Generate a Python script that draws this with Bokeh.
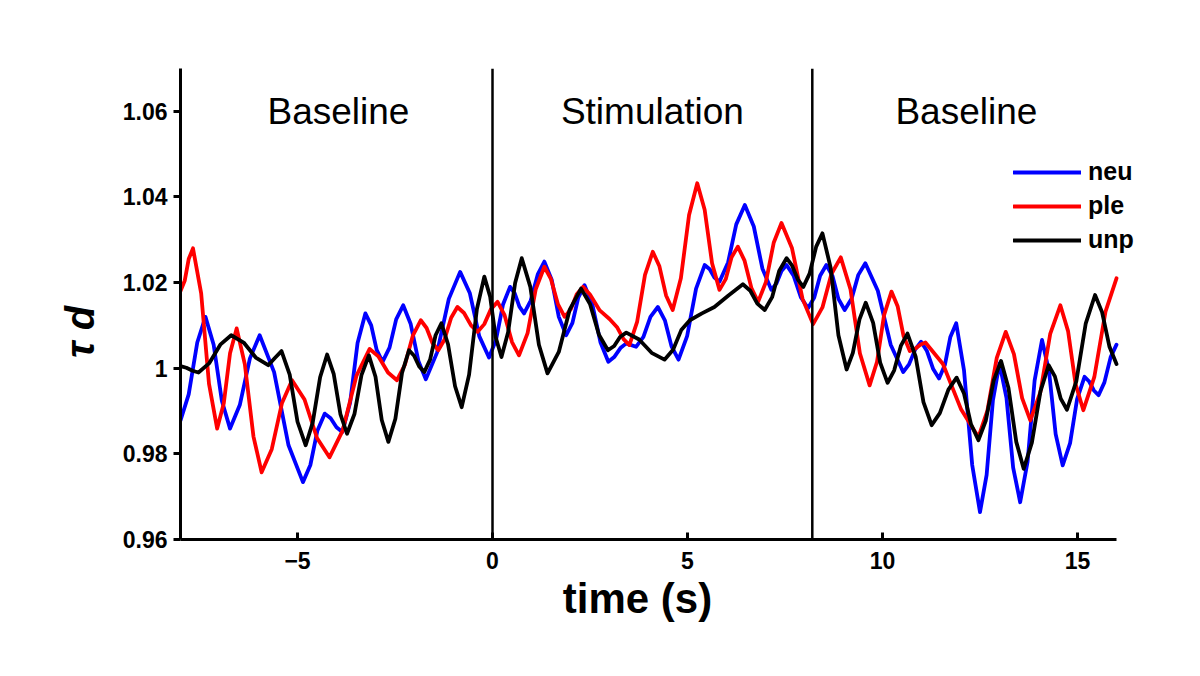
from bokeh.plotting import figure
from bokeh.models import FixedTicker, Span, Range1d
from bokeh.core.properties import value
from bokeh.embed import file_html
from bokeh.resources import INLINE

# ---- data ----
neu_t = [-8.00,-7.79,-7.57,-7.36,-7.15,-6.94,-6.73,-6.48,-6.22,-5.97,
         -5.60,-5.23,-4.86,-4.67,-4.49,-4.30,-4.15,-4.00,-3.85,-3.65,
         -3.46,-3.26,-3.11,-2.97,-2.82,-2.64,-2.47,-2.29,-2.10,-1.90,
         -1.71,-1.42,-1.12,-0.83,-0.58,-0.34,-0.09,0.09,0.27,0.45,
         0.57,0.69,0.81,0.98,1.16,1.33,1.52,1.70,1.89,2.05,
         2.20,2.36,2.56,2.77,2.97,3.12,3.28,3.43,3.68,3.87,
         4.05,4.24,4.42,4.59,4.77,4.99,5.22,5.44,5.57,5.69,
         5.82,6.04,6.25,6.47,6.70,6.92,7.15,7.28,7.41,7.54,
         7.72,7.91,8.09,8.25,8.40,8.56,8.72,8.87,9.03,9.21,
         9.38,9.56,9.88,10.21,10.53,10.68,10.84,10.99,11.14,11.30,
         11.45,11.60,11.74,11.89,12.09,12.30,12.50,12.67,12.83,13.00,
         13.18,13.35,13.53,13.72,13.90,14.09,14.27,14.44,14.62,14.81,
         14.99,15.18,15.30,15.42,15.54,15.69,15.85,16.00]
neu_y = [0.9878,0.9939,1.0060,1.0120,1.0055,0.9924,0.9859,0.9914,1.0023,1.0077,
         0.9991,0.9820,0.9734,0.9774,0.9854,0.9894,0.9883,0.9862,0.9851,0.9920,
         1.0059,1.0128,1.0100,1.0043,1.0015,1.0048,1.0114,1.0147,1.0104,1.0017,
         0.9974,1.0037,1.0162,1.0225,1.0175,1.0075,1.0025,1.0066,1.0149,1.0190,
         1.0175,1.0144,1.0128,1.0158,1.0219,1.0249,1.0206,1.0120,1.0077,1.0106,
         1.0165,1.0194,1.0149,1.0060,1.0015,1.0026,1.0047,1.0058,1.0050,1.0073,
         1.0120,1.0143,1.0112,1.0051,1.0020,1.0075,1.0186,1.0241,1.0231,1.0212,
         1.0202,1.0247,1.0336,1.0381,1.0331,1.0233,1.0183,1.0198,1.0227,1.0241,
         1.0216,1.0165,1.0140,1.0165,1.0216,1.0241,1.0215,1.0162,1.0136,1.0163,
         1.0218,1.0245,1.0181,1.0055,0.9991,1.0009,1.0044,1.0062,1.0040,0.9998,
         0.9976,1.0008,1.0073,1.0105,0.9995,0.9774,0.9664,0.9751,0.9924,1.0011,
         0.9930,0.9768,0.9687,0.9782,0.9971,1.0066,0.9993,0.9846,0.9773,0.9825,
         0.9928,0.9980,0.9969,0.9948,0.9937,0.9967,1.0026,1.0055]

ple_t = [-8.00,-7.89,-7.79,-7.68,-7.47,-7.27,-7.06,-6.89,-6.73,-6.56,
         -6.35,-6.13,-5.92,-5.66,-5.40,-5.14,-4.82,-4.50,-4.18,-3.84,
         -3.49,-3.15,-2.92,-2.68,-2.45,-2.25,-2.04,-1.84,-1.69,-1.54,
         -1.39,-1.23,-1.06,-0.90,-0.73,-0.55,-0.38,-0.21,-0.04,0.13,
         0.31,0.50,0.68,0.90,1.11,1.33,1.50,1.68,1.85,2.01,
         2.16,2.32,2.50,2.75,3.00,3.20,3.36,3.51,3.71,3.91,
         4.11,4.28,4.45,4.62,4.83,5.04,5.25,5.44,5.63,5.82,
         5.98,6.13,6.29,6.46,6.64,6.81,7.01,7.21,7.41,7.68,
         7.95,8.22,8.46,8.69,8.93,9.18,9.42,9.67,9.86,10.04,
         10.23,10.39,10.54,10.70,10.83,10.97,11.10,11.55,12.01,12.46,
         12.69,12.93,13.16,13.37,13.58,13.79,14.05,14.30,14.56,14.76,
         14.95,15.15,15.43,15.72,16.00]
ple_y = [1.0180,1.0205,1.0255,1.0280,1.0175,0.9964,0.9859,0.9918,1.0035,1.0093,
         1.0009,0.9841,0.9757,0.9811,0.9918,0.9972,0.9927,0.9837,0.9792,0.9855,
         0.9982,1.0045,1.0027,0.9990,0.9972,1.0007,1.0077,1.0112,1.0094,1.0059,
         1.0042,1.0067,1.0118,1.0143,1.0129,1.0100,1.0085,1.0103,1.0138,1.0155,
         1.0124,1.0061,1.0030,1.0082,1.0185,1.0237,1.0208,1.0149,1.0120,1.0138,
         1.0173,1.0190,1.0172,1.0135,1.0115,1.0095,1.0068,1.0054,1.0109,1.0218,
         1.0272,1.0238,1.0170,1.0136,1.0210,1.0358,1.0432,1.0370,1.0245,1.0183,
         1.0208,1.0259,1.0284,1.0252,1.0187,1.0155,1.0201,1.0293,1.0339,1.0280,
         1.0162,1.0103,1.0142,1.0220,1.0259,1.0184,1.0035,0.9960,1.0015,1.0124,
         1.0179,1.0144,1.0075,1.0040,1.0045,1.0055,1.0060,1.0010,0.9905,0.9839,
         0.9901,1.0024,1.0085,1.0033,0.9930,0.9878,0.9945,1.0080,1.0147,1.0086,
         0.9963,0.9902,0.9979,1.0133,1.0210]

unp_t = [-8.00,-7.85,-7.69,-7.54,-7.26,-6.98,-6.70,-6.38,-6.07,-5.75,
         -5.58,-5.41,-5.20,-5.00,-4.79,-4.61,-4.42,-4.24,-4.07,-3.90,
         -3.73,-3.54,-3.36,-3.17,-3.00,-2.84,-2.67,-2.49,-2.32,-2.14,
         -2.01,-1.88,-1.75,-1.60,-1.46,-1.31,-1.14,-0.96,-0.79,-0.60,
         -0.40,-0.21,-0.06,0.08,0.23,0.40,0.58,0.75,0.97,1.19,
         1.41,1.70,1.98,2.27,2.50,2.73,2.96,3.12,3.27,3.43,
         3.76,4.08,4.41,4.63,4.84,5.06,5.37,5.69,6.05,6.42,
         6.61,6.79,6.98,7.17,7.35,7.54,7.68,7.83,7.97,8.13,
         8.30,8.46,8.67,8.87,9.08,9.24,9.41,9.57,9.76,9.94,
         10.13,10.30,10.47,10.64,10.85,11.05,11.26,11.47,11.69,11.90,
         12.09,12.27,12.46,12.65,12.85,13.04,13.23,13.43,13.62,13.83,
         14.05,14.26,14.42,14.57,14.73,14.97,15.21,15.45,15.63,15.82,
         16.00]
unp_y = [1.0005,1.0001,0.9994,0.9990,1.0012,1.0055,1.0077,1.0060,1.0025,1.0007,
         1.0024,1.0040,0.9985,0.9875,0.9820,0.9873,0.9979,1.0032,0.9986,0.9893,
         0.9847,0.9893,0.9984,1.0030,0.9980,0.9879,0.9828,0.9882,0.9989,1.0042,
         1.0029,1.0004,0.9991,1.0020,1.0077,1.0105,1.0056,0.9958,0.9909,0.9985,
         1.0138,1.0214,1.0167,1.0073,1.0026,1.0084,1.0199,1.0257,1.0190,1.0055,
         0.9988,1.0038,1.0137,1.0186,1.0150,1.0078,1.0042,1.0052,1.0073,1.0083,
         1.0067,1.0036,1.0020,1.0043,1.0089,1.0112,1.0128,1.0143,1.0170,1.0196,
         1.0181,1.0151,1.0136,1.0166,1.0227,1.0257,1.0240,1.0207,1.0190,1.0221,
         1.0284,1.0315,1.0235,1.0077,0.9997,1.0036,1.0114,1.0153,1.0106,1.0013,
         0.9966,0.9995,1.0052,1.0081,1.0027,0.9921,0.9867,0.9895,0.9950,0.9978,
         0.9941,0.9869,0.9832,0.9878,0.9971,1.0017,0.9954,0.9828,0.9765,0.9826,
         0.9946,1.0007,0.9981,0.9929,0.9903,0.9970,1.0104,1.0171,1.0131,1.0050,
         1.0010]

series_names = ["neu", "ple", "unp"]
series_colors = ["#0000ff", "#ff0000", "#000000"]
phase_bounds = [0.0, 8.2]
phase_labels = ["Baseline", "Stimulation", "Baseline"]
phase_label_x = [-3.95, 4.1, 12.15]
phase_label_y = [1.06, 1.06, 1.06]
x_ticks = [-5, 0, 5, 10, 15]
y_ticks = [0.96, 0.98, 1.0, 1.02, 1.04, 1.06]
t_min, t_max = -8, 16

FONT = "Liberation Sans"
NBSP = "\u00a0"

# frame: left 180 px, ~39 px per second; the x axis line stops at 16 s,
# the frame continues to the right so the legend texts are not clipped
p = figure(width=1184, height=660, output_backend="svg", toolbar_location=None,
           x_range=Range1d(t_min, t_min + 984 / 39.0), y_range=Range1d(0.96, 1.07),
           min_border_left=180, min_border_right=20,
           min_border_top=68, min_border_bottom=121)
p.outline_line_color = None
p.xgrid.visible = False
p.ygrid.visible = False
p.background_fill_color = "white"
p.border_fill_color = "white"

for t, y, name, col in zip([neu_t, ple_t, unp_t], [neu_y, ple_y, unp_y],
                           series_names, series_colors):
    p.line(t, y, line_color=col, line_width=3.8, legend_label=name,
           line_join="round", line_cap="round")

for b in phase_bounds:
    p.add_layout(Span(location=b, dimension="height", line_color="black",
                      line_width=2.5))

p.text(x=phase_label_x, y=phase_label_y, text=phase_labels,
       text_align="center", text_baseline="middle",
       text_font=value(FONT), text_font_size="37px", text_color="black")

# axes
for ax in (p.xaxis[0], p.yaxis[0]):
    ax.axis_line_width = 3
    ax.axis_line_color = "black"
    ax.major_tick_line_width = 3
    ax.major_tick_line_color = "black"
    ax.minor_tick_line_color = None
    ax.major_label_text_font = FONT
    ax.major_label_text_font_style = "bold"
    ax.major_label_text_font_size = "23px"
    ax.major_label_text_color = "black"
    ax.axis_label_text_font = FONT
    ax.axis_label_text_font_style = "bold"
    ax.axis_label_text_color = "black"

xa = p.xaxis[0]
xa.bounds = (t_min, t_max)
xa.ticker = FixedTicker(ticks=x_ticks)
xa.major_tick_in = 7
xa.major_tick_out = 0
xa.major_label_standoff = 12
xa.major_label_overrides = {-5: "\u22125"}
# trailing no-break spaces move the centred label to the left, as in the reference
xa.axis_label = "time (s)" + NBSP * 6
xa.axis_label_text_font_size = "42px"
xa.axis_label_standoff = 3

ya = p.yaxis[0]
ya.ticker = FixedTicker(ticks=y_ticks)
ya.major_tick_in = 0
ya.major_tick_out = 7
ya.major_label_standoff = 6
ya.major_label_overrides = {1: "1"}
ya.axis_label = "\u03c4 d" + NBSP * 5
ya.axis_label_text_font_size = "40px"
ya.axis_label_text_font_style = "bold italic"
ya.axis_label_standoff = 18

lg = p.legend[0]
lg.location = (828, 280)
lg.background_fill_alpha = 0
lg.border_line_alpha = 0
lg.glyph_width = 68
lg.glyph_height = 20
lg.label_height = 20
lg.spacing = 5
lg.padding = 5
lg.label_standoff = 7
lg.label_text_font = FONT
lg.label_text_font_style = "bold"
lg.label_text_font_size = "25px"
lg.label_text_color = "black"

open("out.html", "w").write(file_html(p, INLINE))
